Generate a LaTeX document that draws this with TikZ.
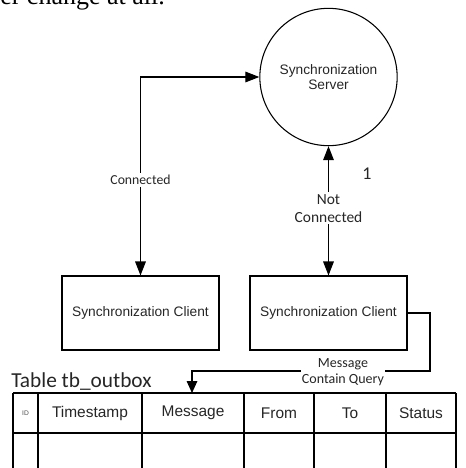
\documentclass[tikz,border=0pt]{standalone}
\usepackage{fontspec}
\setmainfont{Liberation Serif}
\newfontfamily\arialf{Liberation Sans}
\newfontfamily\calib{Carlito}
\usetikzlibrary{arrows.meta}
\tikzset{
  box/.style={draw, line width=0.8pt, minimum width=117.75pt, minimum height=55.5pt,
    inner sep=0pt, font=\arialf\fontsize{10.3}{12}\selectfont, text=black!85},
  link/.style={line width=0.8pt, {Triangle[length=10.5pt,width=8pt]}-{Triangle[length=10.5pt,width=8pt]}},
  onelink/.style={line width=0.8pt, -{Triangle[length=9pt,width=8pt]}},
  tag/.style={fill=white, inner sep=1.5pt, align=center, text=black!85},
  cellhead/.style={font=\arialf\fontsize{11.6}{13}\selectfont, text=black!85},
  grid/.style={line width=1pt}
}
\begin{document}
\begin{tikzpicture}[x=0.75pt, y=-0.75pt]
\clip (0,0) rectangle (465,468);

% tail of a sentence from the surrounding page
\node[anchor=base west, inner sep=0pt, font=\fontsize{19.5}{22}\selectfont] (pagetext) at (0,4.3) {er change at all.};

% server and clients
\node[draw, circle, line width=0.8pt, minimum size=103pt, inner sep=0pt, align=center,
  font=\arialf\fontsize{10.3}{11.5}\selectfont, text=black!85] (server) at (328.5,77)
  {Synchronization\\Server};
\node[box] (client1) at (140.5,313) {Synchronization Client};
\node[box] (client2) at (328.5,313) {Synchronization Client};

% connections
\draw[link] (client1.north) |- (server.west);
\node[tag, font=\calib\fontsize{10.3}{12}\selectfont] (lblcon) at (140.5,180) {Connected};
\draw[link] (server.south) -- (client2.north)
  node[tag, pos=0.48, font=\calib\fontsize{11.6}{13.5}\selectfont] (lblnot) {Not\\Connected};
\node[font=\calib\fontsize{13.5}{15}\selectfont, text=black!85] (one) at (367,174) {1};

% table
\node[anchor=west, inner sep=0pt, font=\calib\fontsize{16}{18}\selectfont, text=black!85] (title) at (11,382) {Table tb\_outbox};
\coordinate (tl) at (13,393);
\coordinate (tr) at (456,393);
\coordinate (drop) at (192,393);
\draw[grid] (tl) -- (tr);
\draw[grid] (13,433) -- (456,433);
\foreach \x in {13,38,142,244,314,386,456}
  \draw[grid] (\x,393) -- (\x,470);
\node[font=\arialf\fontsize{5}{6}\selectfont, text=black!70] (hid) at (25.5,413) {ID};
\node[cellhead] (hts) at (90,413) {Timestamp};
\node[cellhead] (hmsg) at (193,413) {Message};
\node[cellhead] (hfrom) at (279,413) {From};
\node[cellhead] (hto) at (350,413) {To};
\node[cellhead] (hstat) at (421,413) {Status};

% message from the second client into the outbox
\coordinate (bend) at (430,371);
\draw[onelink] (client2.east) -| (bend) -- (bend -| drop) -- (drop);
\node[tag, font=\calib\fontsize{10.5}{12}\selectfont, inner sep=1pt] (lblmsg) at (343,372) {Message\\Contain Query};
\end{tikzpicture}
\end{document}
